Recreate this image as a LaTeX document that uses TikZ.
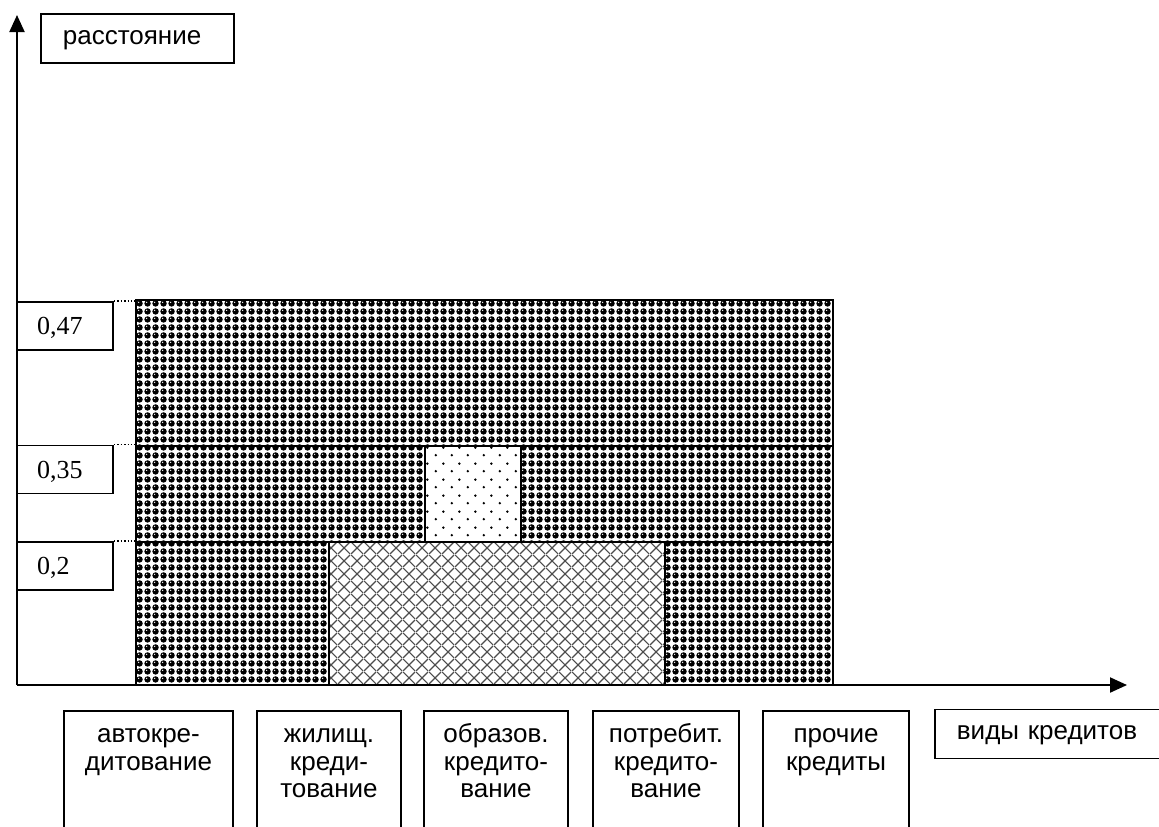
\documentclass[tikz,border=0pt]{standalone}
\usepackage{fontspec}
\setmainfont{Liberation Serif}
\newfontfamily\labelfont{Liberation Sans}
\usetikzlibrary{arrows.meta,patterns}

% dense "balls" fill
\pgfdeclarepatterninherentlycolored{balls}{\pgfpointorigin}{\pgfqpoint{4pt}{4pt}}{\pgfqpoint{4pt}{4pt}}{
\pgfsetfillcolor{white}
\pgfpathrectangle{\pgfpointorigin}{\pgfqpoint{4pt}{4pt}}
\pgfusepath{fill}
\pgfsetfillcolor{black}
\pgfpathcircle{\pgfqpoint{2pt}{2pt}}{1.8pt}
\pgfusepath{fill}
\pgfsetfillcolor{white}
\pgfpathcircle{\pgfqpoint{1.5pt}{2.6pt}}{0.4pt}
\pgfusepath{fill}
}
% sparse dots
\pgfdeclarepatternformonly{sparsedots}{\pgfpointorigin}{\pgfqpoint{8pt}{8pt}}{\pgfqpoint{8pt}{8pt}}{
\pgfpathcircle{\pgfqpoint{2pt}{2pt}}{0.7pt}
\pgfpathcircle{\pgfqpoint{6pt}{6pt}}{0.7pt}
\pgfusepath{fill}
}
% diagonal mesh
\pgfdeclarepatternformonly{diagmesh}{\pgfpointorigin}{\pgfqpoint{6.5pt}{6.5pt}}{\pgfqpoint{6.5pt}{6.5pt}}{
\pgfsetlinewidth{0.6pt}
\pgfpathmoveto{\pgfpointorigin}
\pgfpathlineto{\pgfqpoint{6.5pt}{6.5pt}}
\pgfpathmoveto{\pgfqpoint{0pt}{6.5pt}}
\pgfpathlineto{\pgfqpoint{6.5pt}{0pt}}
\pgfusepath{stroke}
}

% top-aligned text of a credit box
\newcommand\catlines[2]{\parbox[t][58pt][t]{#1}{\centering\strut #2}}

\begin{document}
\begin{tikzpicture}[
x=0.5pt,
y=-0.5pt,
axis/.style={
-{Triangle[length=8.5pt,width=7.5pt]},
line width=1pt
},
namebox/.style={
draw,
line width=0.9pt,
font=\labelfont\fontsize{13}{13.85}\selectfont,
execute at begin node=\strut,
inner ysep=0pt,
inner xsep=11pt,
align=left,
minimum height=24.5pt
},
valbox/.style={
draw,
line width=0.9pt,
font=\fontsize{13}{15}\selectfont,
text width=28pt,
text depth=0pt,
inner xsep=10pt,
inner ysep=0pt,
minimum height=24pt,
align=left
},
catbox/.style={
draw,
line width=0.9pt,
anchor=north,
font=\labelfont\fontsize{13}{13.85}\selectfont,
inner xsep=0pt,
inner ysep=6pt
},
guide/.style={
densely dotted,
line width=0.7pt
}
]
\useasboundingbox (0,0) rectangle (1159,826);

\coordinate (origin) at (17,685);
\coordinate (ytip) at (17,15);
\coordinate (xtip) at (1127,685);
\coordinate (chartnw) at (136,300);
\coordinate (chartse) at (833,685);

% filled areas
\fill[pattern=balls] (chartnw) rectangle (chartse);
\fill[white] (425,446) rectangle (521,542);
\fill[pattern=sparsedots, pattern color=black] (425,446) rectangle (521,542);
\fill[white] (329,542) rectangle (665,685);
\fill[pattern=diagmesh, pattern color=black!70] (329,542) rectangle (665,685);

\draw[line width=0.8pt] (chartnw) rectangle (chartse);
\draw[line width=0.8pt] (136,446) -- (833,446)
(136,542) -- (833,542)
(425,446) -- (425,542)
(521,446) -- (521,542)
(329,542) -- (329,685)
(665,542) -- (665,685);

% value boxes
\node[valbox] (v47) at (65,326) {0,47};
\node[valbox] (v35) at (65,469.5) {0,35};
\node[valbox] (v20) at (65,566) {0,2};

\draw[guide] (v47.north east) -- (v47.north east -| chartnw);
\draw[guide] (v35.north east) -- (v35.north east -| chartnw);
\draw[guide] (v20.north east) -- (v20.north east -| chartnw);

% axis names
\node[namebox, anchor=west, text width=74.5pt] (dist) at (40,38.5) {расстояние};
\node[namebox, anchor=west, text width=120pt] (kinds) at (934,734) {виды кредитов};

% credit kinds
\node[catbox] (auto) at (148.5,710) {\catlines{84.5pt}{автокре-\\дитование}};
\node[catbox] (house) at (329,710) {\catlines{72pt}{жилищ.\\креди-\\тование}};
\node[catbox] (edu) at (496,710) {\catlines{72pt}{образов.\\кредито-\\вание}};
\node[catbox] (cons) at (666,710) {\catlines{73pt}{потребит.\\кредито-\\вание}};
\node[catbox] (other) at (836,710) {\catlines{73pt}{прочие\\кредиты}};

% axes
\draw[axis] (origin) -- (ytip);
\draw[axis] (origin) -- (xtip);

\end{tikzpicture}
\end{document}
